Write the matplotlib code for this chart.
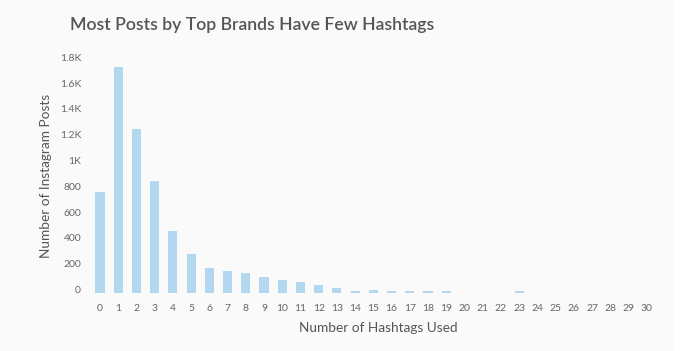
import matplotlib.pyplot as plt
import matplotlib.transforms as mtransforms
from matplotlib.ticker import FixedLocator

# -----------------------------------------------------------------------------
# data

hashtags = list(range(31))
posts = [775, 1745, 1265, 865, 480, 300, 190, 167, 149, 122,
         97, 79, 60, 35, 15, 22, 15, 15, 15, 15,
         0, 0, 0, 15, 0, 0, 0, 0, 0, 0, 0]
ytick_vals = [0, 200, 400, 600, 800, 1000, 1200, 1400, 1600, 1800]
ytick_labels = ['0', '200', '400', '600', '800', '1K', '1.2K', '1.4K', '1.6K', '1.8K']

# -----------------------------------------------------------------------------
# plot

plt.rcParams['font.family'] = ['Lato', 'DejaVu Sans']

fig = plt.figure(figsize=(6.98, 3.51), dpi=100)
fig.patch.set_facecolor('white')
# light grey panel that stops short of the right edge
fig.patches.append(plt.Rectangle((0, 0), 674 / 698, 1, transform=fig.transFigure,
                                 facecolor='#fafafa', edgecolor='none', zorder=-10))

ax = fig.add_axes([88 / 698, (351 - 292.5) / 351, (660 - 88) / 698, 232.3 / 351])
ax.set_facecolor('none')

ax.bar(hashtags, posts, width=0.5, color='#b3d7ef')

ax.set_xlim(-0.66, 30.73)
ax.set_ylim(0, 1800)
ax.set_xticks(hashtags)
ax.set_xticklabels([str(h) for h in hashtags])
ax.yaxis.set_major_locator(FixedLocator(ytick_vals))
ax.set_yticklabels(ytick_labels)

ax.tick_params(axis='both', length=0, labelsize=7.5, labelcolor='#666666')
ax.tick_params(axis='x', pad=8)
ax.tick_params(axis='y', pad=5)
for lab in ax.get_yticklabels():
    lab.set_transform(lab.get_transform() + mtransforms.ScaledTranslation(0, 3 / 100, fig.dpi_scale_trans))

for s in ax.spines.values():
    s.set_visible(False)

fig.text(70 / 698, 1 - 25 / 351, 'Most Posts by Top Brands Have Few Hashtags',
         fontsize=12.7, color='#555555', fontweight='semibold', va='center', ha='left')
fig.text(46 / 698, 1 - 176 / 351, 'Number of Instagram Posts', rotation=90,
         fontsize=9.8, color='#555555', va='center', ha='center')
fig.text(378 / 698, 1 - 328 / 351, 'Number of Hashtags Used',
         fontsize=9.8, color='#555555', va='center', ha='center')

fig.savefig('out.png', dpi=100, facecolor=fig.get_facecolor())
